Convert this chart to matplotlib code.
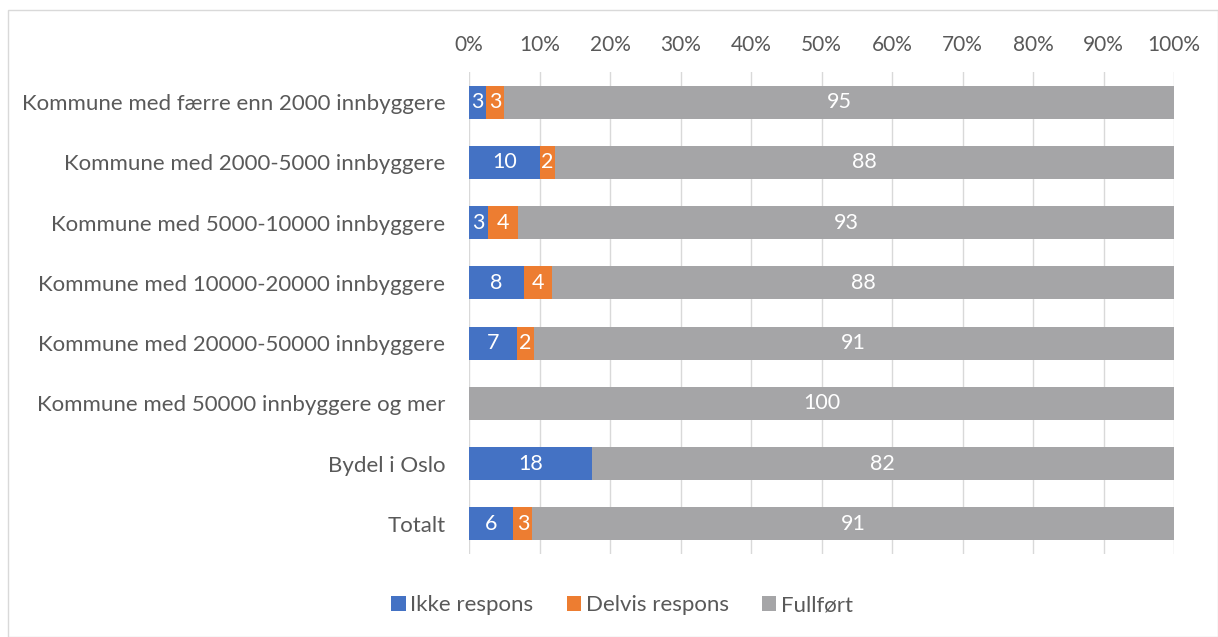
import matplotlib.pyplot as plt
from matplotlib.patches import Rectangle

plt.rcParams["font.family"] = ["Lato", "DejaVu Sans"]

categories = [
    "Kommune med færre enn 2000 innbyggere",
    "Kommune med 2000-5000 innbyggere",
    "Kommune med 5000-10000 innbyggere",
    "Kommune med 10000-20000 innbyggere",
    "Kommune med 20000-50000 innbyggere",
    "Kommune med 50000 innbyggere og mer",
    "Bydel i Oslo",
    "Totalt",
]
# share of each group (percent)
ikke = [2.4, 10.1, 2.7, 7.8, 6.85, 0.0, 17.4, 6.3]
delvis = [2.6, 2.1, 4.3, 4.0, 2.3, 0.0, 0.0, 2.7]
fullfort = [95.0, 87.8, 93.0, 88.2, 90.85, 100.0, 82.6, 91.0]
# labels printed in the bars
ikke_lbl = ["3", "10", "3", "8", "7", "", "18", "6"]
delvis_lbl = ["3", "2", "4", "4", "2", "", "", "3"]
fullfort_lbl = ["95", "88", "93", "88", "91", "100", "82", "91"]

colors = ["#4472C4", "#ED7D31", "#A5A5A7"]
series = [("Ikke respons", ikke, ikke_lbl),
          ("Delvis respons", delvis, delvis_lbl),
          ("Fullført", fullfort, fullfort_lbl)]
txt = "#595959"
fs = 15.5

fig = plt.figure(figsize=(12.18, 6.37), dpi=100)
W, H = 1218, 637
ax = fig.add_axes([469 / W, 1 - 554 / H, 705 / W, (554 - 72) / H])

y = list(range(len(categories)))
left = [0.0] * len(categories)
for (name, vals, lbls), c in zip(series, colors):
    bars = ax.barh(y, vals, left=left, height=0.55, color=c, label=name, zorder=3)
    for b, v, l in zip(bars, vals, lbls):
        if l:
            ax.text(b.get_x() + v / 2, b.get_y() + b.get_height() / 2, l,
                    ha="center", va="center", color="white", fontsize=fs, zorder=4)
    left = [a + b for a, b in zip(left, vals)]

ax.set_xlim(0, 100)
ax.set_ylim(len(categories) - 0.5, -0.5)
ax.set_yticks(y)
ax.set_yticklabels(categories, fontsize=16, color=txt)
ax.set_xticks(range(0, 101, 10))
ax.set_xticklabels([f"{v}%" for v in range(0, 101, 10)], fontsize=15, color=txt)
ax.xaxis.tick_top()
ax.tick_params(axis="y", length=0, pad=17)
ax.tick_params(axis="x", length=0, pad=12)
ax.grid(axis="x", color="#D9D9D9", linewidth=1, zorder=0)
for s in ax.spines.values():
    s.set_visible(False)

fig.legend(loc="center", bbox_to_anchor=(622 / W, 1 - 605 / H), ncol=3, frameon=False,
           fontsize=16, labelcolor=txt, handlelength=0.65, handleheight=0.65,
           handletextpad=0.2, columnspacing=1.5)

fig.patches.append(Rectangle((8 / W, 0), 1 - 8 / W, 1 - 10 / H, transform=fig.transFigure,
                             fill=False, edgecolor="#D9D9D9", linewidth=1))

fig.savefig("out.png", dpi=100)
